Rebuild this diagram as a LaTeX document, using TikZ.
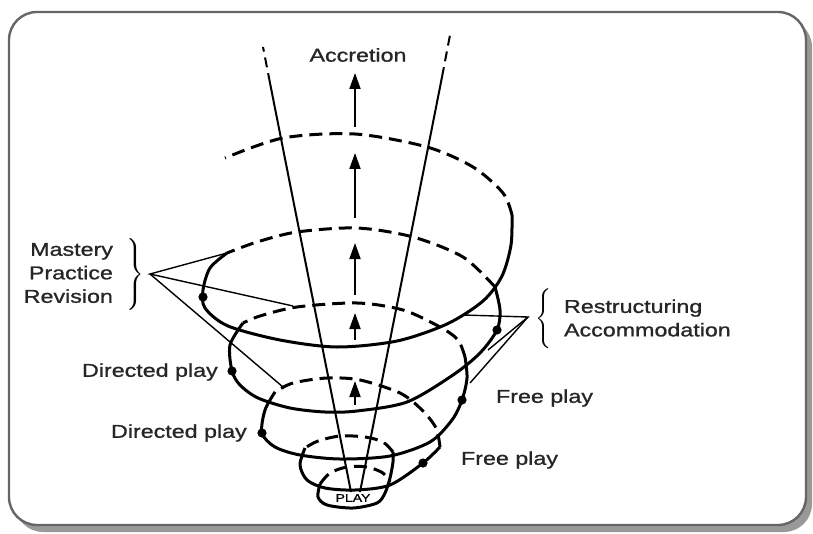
\documentclass[tikz,border=0pt]{standalone}
\usepackage{fontspec}
\setmainfont{Liberation Sans}[FakeStretch=1.25,FakeBold=1]
\usetikzlibrary{arrows.meta}

\begin{document}
\begin{tikzpicture}[x=0.5pt,y=-0.5pt,
  lbl/.style={font=\fontsize{9.3}{11.75}\selectfont,text=black!85},
  turn/.style={line width=1.5pt,line join=round},
  back/.style={turn,dash pattern=on 6.5pt off 3.5pt},
  axis/.style={line width=1pt},
  lead/.style={line width=0.7pt},
  dot/.style={circle,fill,inner sep=0pt,minimum size=4.6pt},
  rise/.style={line width=0.9pt,-{Triangle[length=8pt,width=5.5pt]}}]
  \useasboundingbox (0,0) rectangle (813,534);
  % frame and its shadow
  \fill[black!40,rounded corners=14pt] (15,19) rectangle (812,532);
  \draw[fill=white,draw=black!60,line width=1.2pt,rounded corners=14pt] (9,12) rectangle (806,525);

  % spiral, from PLAY upward: solid in front, dashed behind
  \draw[turn] plot[smooth] coordinates {(320,484) (318,497) (327,505) (353,508) (377,503) (385,493) (390,478) (393,462) (393,452)};
  \draw[back] plot[smooth] coordinates {(320,484) (330,473) (347,467) (367,467) (383,473) (390,482)};
  \draw[back] plot[smooth] coordinates {(393,452) (383,442) (365,437) (340,436) (318,441) (305,448)};
  \draw[turn] plot[smooth] coordinates {(305,448) (300,465) (307,480) (325,488) (355,490) (390,485) (423,463) (440,447)};
  \draw[back] plot[smooth] coordinates {(440,447) (436,428) (422,410) (400,393) (360,380) (327,378) (293,383) (275,392)};
  \draw[turn] plot[smooth] coordinates {(275,392) (265,410) (262,433) (275,447) (300,455) (340,459) (390,456) (430,442) (452,420) (462,400) (467,378) (465,357)};
  \draw[back] plot[smooth] coordinates {(465,357) (458,340) (440,327) (403,310) (357,303) (297,307) (260,316) (243,323)};
  \draw[turn] plot[smooth] coordinates {(243,323) (230,345) (232,371) (240,385) (258,398) (290,408) (325,412) (357,411) (407,402) (453,375) (480,353) (497,330) (500,310) (495,287)};
  \draw[back] plot[smooth] coordinates {(495,287) (463,257) (413,237) (357,228) (297,232) (257,242) (227,253)};
  \draw[turn] plot[smooth] coordinates {(227,253) (210,268) (203,290) (205,308) (228,326) (280,340) (337,347) (397,341) (447,324) (483,301) (502,276) (511,245) (512,215)};
  \draw[back] plot[smooth] coordinates {(512,215) (503,193) (473,167) (427,147) (355,134) (283,138) (225,158)};

  % the cone
  \coordinate (apexL) at (351,492);
  \coordinate (apexR) at (360,492);
  \coordinate (topL) at (270,83);
  \coordinate (topR) at (442,77);
  \coordinate (endL) at (263,47);
  \coordinate (endR) at (450,35);
  \draw[axis] (apexL) -- (topL);
  \draw[axis] (apexR) -- (topR);
  \draw[axis,dash pattern=on 5pt off 3pt] (topL) -- (endL);
  \draw[axis,dash pattern=on 5pt off 3pt] (topR) -- (endR);

  % upward arrows
  \foreach \ya/\yb [count=\i] in {127/73,218/153,295/243,340/313,405/381}{
    \coordinate (low\i) at (355,\ya);
    \coordinate (high\i) at (355,\yb);
    \draw[rise] (low\i) -- (high\i);
  }

  % dots on the spiral
  \node[dot] (dotML) at (203,297) {};
  \node[dot] (dotMR) at (497,330) {};
  \node[dot] (dotDA) at (232,371) {};
  \node[dot] (dotFA) at (462,400) {};
  \node[dot] (dotDB) at (262,433) {};
  \node[dot] (dotFB) at (423,463) {};

  % labels
  \node[lbl] (accretion) at (358,55) {Accretion};
  \node[lbl,align=right,anchor=east] (mastery) at (120,273) {Mastery\\Practice\\Revision};
  \node (mbrace) at (134,276) {$\left.\vrule height 17pt depth 17pt width 0pt\right\}$};
  \node[lbl,anchor=west,align=left] (restruct) at (557,318) {Restructuring\\Accommodation};
  \node (rbrace) at (545,319) {$\left\{\vrule height 11pt depth 11pt width 0pt\right.$};
  \node[lbl,anchor=west] (dirA) at (75,372) {Directed play};
  \node[lbl,anchor=west] (dirB) at (104,433) {Directed play};
  \node[lbl,anchor=west] (freeA) at (489,398) {Free play};
  \node[lbl,anchor=west] (freeB) at (454,460) {Free play};
  \node[font=\fontsize{5.6}{6}\selectfont] (play) at (353,498) {PLAY};

  % leader lines
  \coordinate (mApex) at (150,274);
  \coordinate (mEndA) at (227,253);
  \coordinate (mEndB) at (293,306);
  \coordinate (mEndC) at (283,387);
  \draw[lead] (mEndA) -- (mApex) -- (mEndB);
  \draw[lead] (mApex) -- (mEndC);
  \coordinate (rApex) at (528,317);
  \coordinate (rEndA) at (463,315);
  \coordinate (rEndB) at (488,350);
  \coordinate (rEndC) at (470,383);
  \draw[lead] (rEndA) -- (rApex) -- (rEndB);
  \draw[lead] (rApex) -- (rEndC);
\end{tikzpicture}
\end{document}
